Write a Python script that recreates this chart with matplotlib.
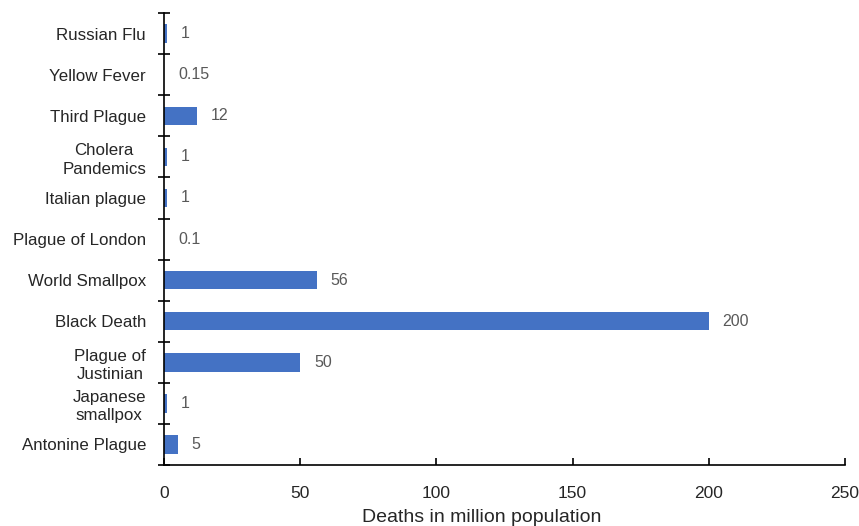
import matplotlib.pyplot as plt
import numpy as np

plt.rcParams['font.family'] = ['Liberation Sans', 'DejaVu Sans']

diseases = ['Antonine Plague', 'Japanese\nsmallpox', 'Plague of\nJustinian', 'Black Death',
            'World Smallpox', 'Plague of London', 'Italian plague', 'Cholera\nPandemics',
            'Third Plague', 'Yellow Fever', 'Russian Flu']
deaths = [5, 1, 50, 200, 56, 0.1, 1, 1, 12, 0.15, 1]
value_labels = ['5', '1', '50', '200', '56', '0.1', '1', '1', '12', '0.15', '1']

fig = plt.figure(figsize=(8.59, 5.26), dpi=100)
ax = fig.add_axes([0.191, 0.116, 0.7927, 0.859])

y = np.arange(len(diseases))
ax.barh(y, deaths, height=0.45, color='#4472C4')
for yi, v, lab in zip(y, deaths, value_labels):
    ax.annotate(lab, (v, yi), xytext=(10, 0), textcoords='offset points',
                va='center', ha='left', fontsize=11.5, color='#595959')

ax.set_xlim(0, 250)
ax.set_ylim(-0.5, len(diseases) - 0.5)
ax.set_xticks([0, 50, 100, 150, 200, 250])
ax.set_yticks(y)
ax.set_yticklabels(diseases, fontsize=12.2, color='#262626',
                   multialignment='center', linespacing=1.3)
ax.set_yticks(np.arange(len(diseases) + 1) - 0.5, minor=True)
ax.tick_params(axis='y', which='major', length=0, pad=13)
ax.tick_params(axis='y', which='minor', direction='inout', length=8, width=1.2)
ax.tick_params(axis='x', direction='in', length=5, width=1.2, pad=15,
               labelsize=12.5, labelcolor='#262626')
for s in ['top', 'right']:
    ax.spines[s].set_visible(False)
for s in ['left', 'bottom']:
    ax.spines[s].set_linewidth(1.2)
ax.set_xlabel('Deaths in million population', fontsize=14, color='#262626')
ax.xaxis.set_label_coords(0.467, -0.098)

fig.savefig('out.png', dpi=100)
